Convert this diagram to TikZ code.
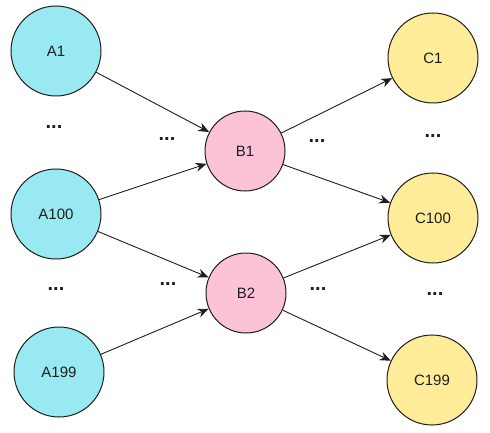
\documentclass[tikz,border=0pt]{standalone}
\usepackage{fontspec}
\setmainfont{Liberation Sans}
\usetikzlibrary{arrows.meta}
\definecolor{ink}{HTML}{1E1E1E}
\definecolor{acol}{HTML}{99E9F2}
\definecolor{bcol}{HTML}{FCC2D7}
\definecolor{ccol}{HTML}{FFEC99}
\begin{document}
\begin{tikzpicture}[x=1pt,y=-1pt,
  nd/.style={circle,draw=ink,line width=1pt,inner sep=0pt,font=\fontsize{15}{17}\selectfont,text=ink},
  anode/.style={nd,fill=acol,minimum size=90pt},
  bnode/.style={nd,fill=bcol,minimum size=80pt},
  cnode/.style={nd,fill=ccol,minimum size=90pt},
  dots/.style={font=\fontsize{20}{20}\selectfont\bfseries,text=ink,inner sep=0pt},
  arr/.style={draw=ink,line width=0.9pt,-{Stealth[length=11pt,width=9pt]}}]
\useasboundingbox (0,0) rectangle (490,433);
\node[anode] (a1) at (56,51) {A1};
\node[anode] (a100) at (56,214) {A100};
\node[anode] (a199) at (59,372) {A199};
\node[bnode] (b1) at (245,151) {B1};
\node[bnode] (b2) at (246,293) {B2};
\node[cnode] (c1) at (433,58) {C1};
\node[cnode] (c100) at (433,218) {C100};
\node[cnode] (c199) at (432,380) {C199};
\node[dots] (d1) at (54,127) {...};
\node[dots] (d2) at (167,139) {...};
\node[dots] (d3) at (56,289) {...};
\node[dots] (d4) at (168,284) {...};
\node[dots] (d5) at (317,141) {...};
\node[dots] (d6) at (433,136) {...};
\node[dots] (d7) at (318,289) {...};
\node[dots] (d8) at (435,294) {...};
\draw[arr] (a1) -- (b1);
\draw[arr] (a100) -- (b1);
\draw[arr] (a100) -- (b2);
\draw[arr] (a199) -- (b2);
\draw[arr] (b1) -- (c1);
\draw[arr] (b1) -- (c100);
\draw[arr] (b2) -- (c100);
\draw[arr] (b2) -- (c199);
\end{tikzpicture}
\end{document}
